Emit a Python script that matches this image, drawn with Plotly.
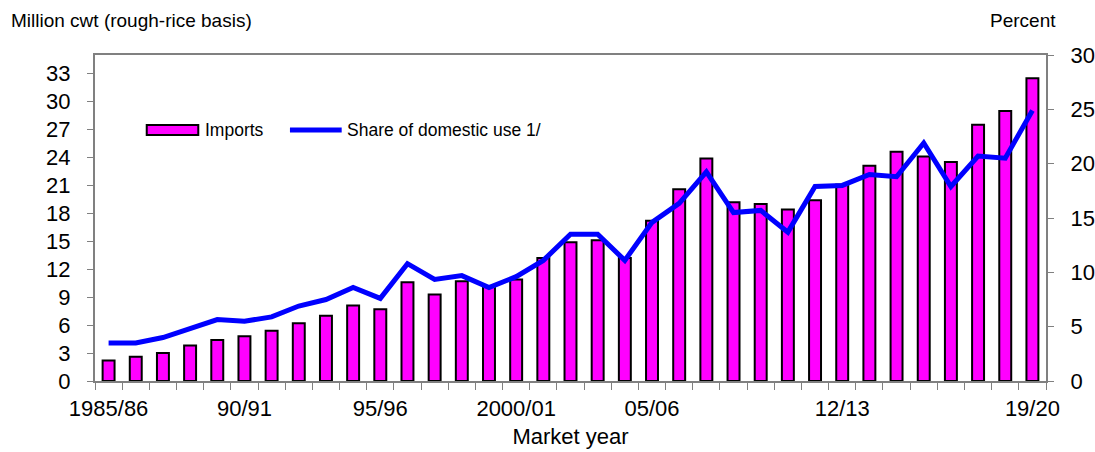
import plotly.graph_objects as go

start_years = list(range(1985, 2020))
years = [f"{y}/{(y + 1) % 100:02d}" for y in start_years]
imports = [2.2, 2.6, 3.0, 3.8, 4.4, 4.8, 5.4, 6.2, 7.0, 8.1,
           7.7, 10.6, 9.3, 10.7, 10.1, 10.9, 13.2, 14.9, 15.1, 13.2,
           17.2, 20.6, 23.9, 19.2, 19.0, 18.4, 19.4, 21.1, 23.1, 24.6,
           24.1, 23.5, 27.5, 29.0, 32.5]
share = [3.5, 3.5, 4.0, 4.85, 5.65, 5.5, 5.9, 6.9, 7.5, 8.6,
         7.6, 10.8, 9.35, 9.7, 8.6, 9.6, 11.1, 13.5, 13.5, 11.1,
         14.6, 16.35, 19.25, 15.5, 15.7, 13.7, 17.9, 18.0, 19.0, 18.8,
         21.9, 17.9, 20.7, 20.5, 24.9]
tick_years = ["1985/86", "1990/91", "1995/96", "2000/01", "2005/06", "2012/13", "2019/20"]
tick_text = ["1985/86", "90/91", "95/96", "2000/01", "05/06", "12/13", "19/20"]
left_ticks = list(range(0, 34, 3))
right_ticks = list(range(0, 31, 5))
series_names = ["Imports", "Share of domestic use 1/"]

x = list(range(len(years)))
tickvals = [years.index(t) for t in tick_years]

FONT = "Liberation Sans, Arial, sans-serif"
GRAY = "#808080"
MAGENTA = "#FF00FF"
BLUE = "#0000FF"

fig = go.Figure()
fig.add_trace(go.Bar(x=x, y=imports, name=series_names[0], customdata=years,
                     marker=dict(color=MAGENTA, line=dict(color="black", width=2)),
                     showlegend=False,
                     hovertemplate="%{customdata}: %{y}<extra></extra>"))
fig.add_trace(go.Scatter(x=x, y=share, name=series_names[1], yaxis="y2",
                         mode="lines", line=dict(color=BLUE, width=5),
                         customdata=years, showlegend=False,
                         hovertemplate="%{customdata}: %{y}%<extra></extra>"))

# legend drawn in paper coordinates (wide swatches as in the original)
legend_y = 0.770
shapes = [
    dict(type="rect", xref="paper", yref="paper", x0=0.0544, x1=0.1086,
         y0=legend_y - 0.0155, y1=legend_y + 0.0155,
         fillcolor=MAGENTA, line=dict(color="black", width=2)),
    dict(type="line", xref="paper", yref="paper", x0=0.2050, x1=0.2594,
         y0=legend_y, y1=legend_y, line=dict(color=BLUE, width=5)),
]
annotations = [
    dict(text=series_names[0], xref="paper", yref="paper", x=0.1140, y=legend_y,
         xanchor="left", yanchor="middle", showarrow=False, font=dict(size=17.5)),
    dict(text=series_names[1], xref="paper", yref="paper", x=0.2630, y=legend_y,
         xanchor="left", yanchor="middle", showarrow=False, font=dict(size=17.5)),
    dict(text="Million cwt (rough-rice basis)", xref="paper", yref="paper",
         x=-0.0902, y=1.0, xanchor="left", yanchor="middle", yshift=35,
         showarrow=False, font=dict(size=19)),
    dict(text="Percent", xref="paper", yref="paper", x=0.9758, y=1.0,
         xanchor="center", yanchor="middle", yshift=35, showarrow=False,
         font=dict(size=19)),
]

fig.update_layout(
    width=1095, height=452,
    margin=dict(l=95, r=49, t=55, b=71),
    paper_bgcolor="white", plot_bgcolor="white",
    font=dict(family=FONT, size=22, color="black"),
    bargap=0.56,
    showlegend=False,
    shapes=shapes,
    annotations=annotations,
    xaxis=dict(range=[-0.5, len(years) - 0.5], tickmode="array", tickvals=tickvals,
               ticktext=tick_text, ticks="", showgrid=False, zeroline=False,
               showline=True, linecolor=GRAY, linewidth=2, mirror=True,
               minor=dict(tickmode="linear", tick0=-0.5, dtick=1, ticks="outside",
                          ticklen=7, tickcolor=GRAY, tickwidth=1, showgrid=False),
               ticklabelstandoff=7,
               title=dict(text="Market year", font=dict(size=22), standoff=8),
               tickfont=dict(size=22), automargin=False),
    yaxis=dict(range=[0, 35], tickmode="array", tickvals=left_ticks, ticks="outside",
               ticklen=6, tickcolor=GRAY, showgrid=False, zeroline=False,
               showline=True, linecolor=GRAY, linewidth=2, tickfont=dict(size=22),
               ticklabelstandoff=12, automargin=False),
    yaxis2=dict(range=[0, 30], tickmode="array", tickvals=right_ticks, ticks="outside",
                ticklen=6, tickcolor=GRAY, overlaying="y", side="right",
                showgrid=False, zeroline=False, showline=True, linecolor=GRAY,
                linewidth=2, tickfont=dict(size=22), ticklabelstandoff=12,
                automargin=False),
)

fig.write_html("out.html", config={"displayModeBar": False},
               post_script="document.body.style.margin='0';")
